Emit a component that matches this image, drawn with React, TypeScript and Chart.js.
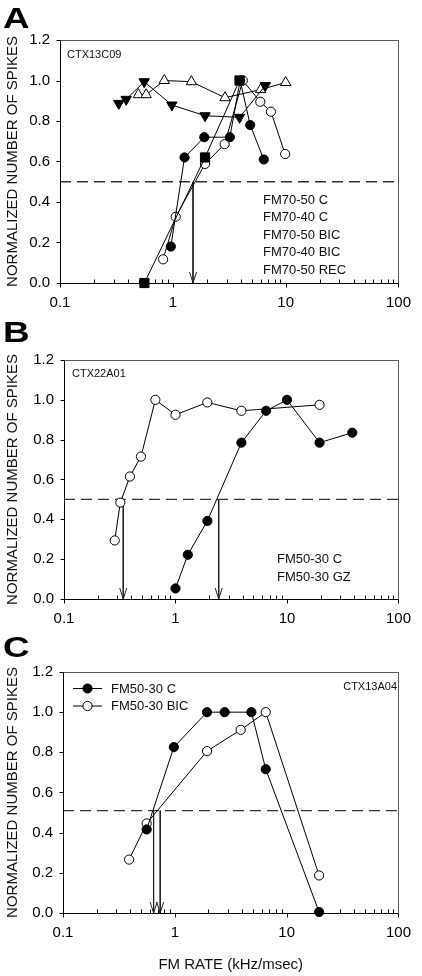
import React, { useEffect, useRef } from "react";
import { Chart, registerables } from "chart.js";

Chart.register(...registerables);

const FONT = '"Liberation Sans", Arial, Helvetica, sans-serif';

// ---------------- Panel A (CTX13C09) ----------------
const A_C50_X = [0.96, 1.27, 1.9, 3.2, 3.95, 4.85, 6.4];
const A_C50_Y = [0.18, 0.62, 0.72, 0.72, 1.0, 0.78, 0.61];
const A_C40_X = [0.332, 0.386, 0.557, 0.98, 1.93, 3.9, 6.6];
const A_C40_Y = [0.887, 0.907, 0.994, 0.879, 0.826, 0.818, 0.975];
const A_B50_X = [0.82, 1.06, 1.93, 2.88, 4.17, 5.96, 7.4, 9.9];
const A_B50_Y = [0.117, 0.327, 0.588, 0.686, 1.0, 0.895, 0.846, 0.637];
const A_B40_X = [0.495, 0.58, 0.84, 1.46, 2.9, 6.0, 10.0];
const A_B40_Y = [0.93, 0.93, 1.0, 0.994, 0.915, 0.955, 0.99];
const A_REC_X = [0.56, 1.93, 3.9];
const A_REC_Y = [0.0, 0.62, 1.0];
const A_HALF = 0.5;
const A_ARROWS = [1.51];
const A_LABELS = ["FM70-50 C", "FM70-40 C", "FM70-50 BIC", "FM70-40 BIC", "FM70-50 REC"];

// ---------------- Panel B (CTX22A01) ----------------
const B_C_X = [1.0, 1.29, 1.93, 3.9, 6.5, 10, 19.6, 38.5];
const B_C_Y = [0.053, 0.222, 0.392, 0.785, 0.945, 1.0, 0.785, 0.835];
const B_GZ_X = [0.285, 0.32, 0.39, 0.49, 0.66, 1.0, 1.93, 3.9, 19.6];
const B_GZ_Y = [0.294, 0.484, 0.615, 0.715, 1.0, 0.925, 0.987, 0.945, 0.975];
const B_HALF = 0.5;
const B_ARROWS = [0.34, 2.44];
const B_LABELS = ["FM50-30 C", "FM50-30 GZ"];

// ---------------- Panel C (CTX13A04) ----------------
const C_C_X = [0.56, 0.98, 1.94, 2.79, 4.84, 6.5, 19.5];
const C_C_Y = [0.416, 0.826, 1.0, 1.0, 1.0, 0.716, 0.005];
const C_BIC_X = [0.39, 0.56, 1.94, 3.88, 6.5, 19.5];
const C_BIC_Y = [0.266, 0.446, 0.806, 0.912, 1.0, 0.187];
const C_HALF = 0.51;
const C_ARROWS = [0.646, 0.74];
const C_LABELS = ["FM50-30 C", "FM50-30 BIC"];

// axis
const X_MIN = 0.1;
const X_MAX = 100;
const Y_MIN = 0;
const Y_MAX = 1.2;
const Y_STEP = 0.2;
const Y_TITLE = "NORMALIZED NUMBER OF SPIKES";
const X_TITLE = "FM RATE (kHz/msec)";

type Marker = "fcircle" | "ocircle" | "ftri-down" | "otri-up" | "fsquare";

function pts(xs: number[], ys: number[]) {
  return xs.map((x, i) => ({ x, y: ys[i] }));
}

function seriesDataset(label: string, xs: number[], ys: number[], marker: Marker) {
  const filled = marker.startsWith("f");
  let pointStyle: any = "circle";
  let radius = 4.6;
  let rotation = 0;
  if (marker === "ftri-down") {
    pointStyle = "triangle";
    radius = 6;
    rotation = 180;
  } else if (marker === "otri-up") {
    pointStyle = "triangle";
    radius = 6;
  } else if (marker === "fsquare") {
    pointStyle = "rect";
    radius = 6.5;
  }
  return {
    label,
    data: pts(xs, ys),
    showLine: true,
    borderColor: "#000",
    borderWidth: 1,
    pointStyle,
    pointRadius: radius,
    pointRotation: rotation,
    pointBackgroundColor: filled ? "#000" : "#fff",
    pointBorderColor: "#000",
    pointBorderWidth: 1,
    clip: false as any,
  };
}

function halfLine(y: number) {
  return {
    label: "half",
    data: [
      { x: X_MIN, y },
      { x: X_MAX, y },
    ],
    showLine: true,
    borderColor: "#333",
    borderWidth: 1.3,
    borderDash: [11, 6],
    pointRadius: 0,
    clip: false as any,
  };
}

function arrowLines(xs: number[], yTop: number) {
  return xs.map((x) => ({
    label: "arrow",
    data: [
      { x, y: yTop },
      { x, y: 0 },
    ],
    showLine: true,
    borderColor: "#222",
    borderWidth: 1,
    pointRadius: 0,
    clip: false as any,
  }));
}

type TextItem = { t: string; x: number; y: number; size: number; align?: CanvasTextAlign };
type LegendItem = { x1: number; x2: number; y: number; filled: boolean; text: string; tx: number };

const decorPlugin = {
  id: "decor",
  afterDraw(chart: any, _args: any, opts: any) {
    const ctx: CanvasRenderingContext2D = chart.ctx;
    const { left, right, top, bottom } = chart.chartArea;
    const xs = chart.scales.x;
    const ys = chart.scales.y;
    const L = Math.floor(left) + 0.5;
    const R = Math.floor(right) + 0.5;
    const T = Math.floor(top) + 0.5;
    const B = Math.floor(bottom) + 0.5;
    ctx.save();
    ctx.lineWidth = 1;
    // top & right frame
    ctx.strokeStyle = "#5a5a5a";
    ctx.beginPath();
    ctx.moveTo(L, T);
    ctx.lineTo(R, T);
    ctx.lineTo(R, B);
    ctx.stroke();
    // left & bottom axes
    ctx.strokeStyle = "#000";
    ctx.beginPath();
    ctx.moveTo(L, T);
    ctx.lineTo(L, B);
    ctx.lineTo(R, B);
    ctx.stroke();
    // x ticks
    ctx.beginPath();
    for (let e = -1; e <= 2; e++) {
      for (let k = 1; k <= 9; k++) {
        const v = k * Math.pow(10, e);
        if (v > X_MAX * 1.0001) break;
        const px = Math.round(xs.getPixelForValue(v)) + 0.5;
        if (k === 1) {
          ctx.moveTo(px, B);
          ctx.lineTo(px, B + 4);
        } else {
          ctx.moveTo(px, B);
          ctx.lineTo(px, B - 4);
        }
      }
    }
    // y ticks
    for (let v = Y_MIN; v <= Y_MAX + 1e-9; v += Y_STEP) {
      const py = Math.round(ys.getPixelForValue(v)) + 0.5;
      ctx.moveTo(L, py);
      ctx.lineTo(L - 4, py);
    }
    ctx.stroke();
    // arrowheads
    ctx.strokeStyle = "#222";
    ctx.beginPath();
    (opts.arrows || []).forEach((v: number) => {
      const px = xs.getPixelForValue(v);
      const py = ys.getPixelForValue(0);
      ctx.moveTo(px - 3.5, py - 11);
      ctx.lineTo(px, py);
      ctx.lineTo(px + 3.5, py - 11);
    });
    ctx.stroke();
    // legend with markers
    (opts.legend || []).forEach((it: LegendItem) => {
      ctx.strokeStyle = "#000";
      ctx.beginPath();
      ctx.moveTo(it.x1, it.y + 0.5);
      ctx.lineTo(it.x2, it.y + 0.5);
      ctx.stroke();
      ctx.beginPath();
      ctx.arc((it.x1 + it.x2) / 2, it.y + 0.5, 4.6, 0, Math.PI * 2);
      ctx.fillStyle = it.filled ? "#000" : "#fff";
      ctx.fill();
      ctx.stroke();
      ctx.fillStyle = "#111";
      ctx.font = `13px ${FONT}`;
      ctx.textAlign = "left";
      ctx.textBaseline = "middle";
      ctx.fillText(it.text, it.tx, it.y + 1);
    });
    // texts
    (opts.texts || []).forEach((it: TextItem) => {
      ctx.fillStyle = "#111";
      ctx.font = `${it.size}px ${FONT}`;
      ctx.textAlign = it.align || "left";
      ctx.textBaseline = "middle";
      ctx.fillText(it.t, it.x, it.y);
    });
    ctx.restore();
  },
};

type PanelProps = {
  top: number;
  height: number;
  area: { left: number; top: number; right: number; bottom: number };
  datasets: any[];
  showXTitle: boolean;
  decor: any;
};

function Panel({ top, height, area, datasets, showXTitle, decor }: PanelProps) {
  const ref = useRef<HTMLCanvasElement | null>(null);
  useEffect(() => {
    if (!ref.current) return;
    const chart = new Chart(ref.current, {
      type: "scatter",
      data: { datasets },
      plugins: [decorPlugin as any],
      options: {
        responsive: false,
        animation: false,
        events: [],
        layout: {
          padding: { left: 0, top: area.top, right: 422 - area.right, bottom: 0 },
        },
        plugins: {
          legend: { display: false },
          tooltip: { enabled: false },
          decor,
        } as any,
        scales: {
          x: {
            type: "logarithmic",
            min: X_MIN,
            max: X_MAX,
            grid: { display: false, drawTicks: false },
            border: { display: false },
            ticks: {
              autoSkip: false,
              maxRotation: 0,
              minRotation: 0,
              padding: 11,
              color: "#000",
              font: { family: FONT, size: 15 },
              callback: (value: any) => {
                const v = Number(value);
                const l = Math.log10(v);
                if (Math.abs(l - Math.round(l)) < 1e-6) {
                  return v < 1 ? "0.1" : String(Math.round(v));
                }
                return "";
              },
            },
            title: {
              display: showXTitle,
              text: X_TITLE,
              color: "#111",
              font: { family: FONT, size: 15 },
              padding: { top: 0, bottom: 2 },
            },
            afterFit: (scale: any) => {
              scale.height = height - area.bottom;
            },
          },
          y: {
            type: "linear",
            min: Y_MIN,
            max: Y_MAX,
            grid: { display: false, drawTicks: false },
            border: { display: false },
            ticks: {
              stepSize: Y_STEP,
              padding: 10,
              color: "#000",
              font: { family: FONT, size: 15 },
              callback: (value: any) => Number(value).toFixed(1),
            },
            title: {
              display: true,
              text: Y_TITLE,
              color: "#111",
              font: { family: FONT, size: 15 },
              padding: { top: 4, bottom: 0 },
            },
            afterFit: (scale: any) => {
              scale.width = area.left;
            },
          },
        },
      } as any,
    });
    return () => chart.destroy();
  }, []);
  return (
    <div style={{ position: "absolute", left: 0, top, width: 422, height }}>
      <canvas ref={ref} width={422} height={height} style={{ display: "block" }} />
    </div>
  );
}

const letterStyle = (top: number): React.CSSProperties => ({
  position: "absolute",
  left: 3,
  top,
  fontFamily: FONT,
  fontWeight: "bold",
  fontSize: 29,
  lineHeight: "29px",
  color: "#000",
  transform: "scaleX(1.27)",
  transformOrigin: "left top",
  margin: 0,
});

export default function App() {
  const dsA = [
    seriesDataset(A_LABELS[0], A_C50_X, A_C50_Y, "fcircle"),
    seriesDataset(A_LABELS[4], A_REC_X, A_REC_Y, "fsquare"),
    seriesDataset(A_LABELS[2], A_B50_X, A_B50_Y, "ocircle"),
    seriesDataset(A_LABELS[1], A_C40_X, A_C40_Y, "ftri-down"),
    seriesDataset(A_LABELS[3], A_B40_X, A_B40_Y, "otri-up"),
    halfLine(A_HALF),
    ...arrowLines(A_ARROWS, A_HALF),
  ];
  const dsB = [
    seriesDataset(B_LABELS[0], B_C_X, B_C_Y, "fcircle"),
    seriesDataset(B_LABELS[1], B_GZ_X, B_GZ_Y, "ocircle"),
    halfLine(B_HALF),
    ...arrowLines(B_ARROWS, B_HALF),
  ];
  const dsC = [
    seriesDataset(C_LABELS[0], C_C_X, C_C_Y, "fcircle"),
    seriesDataset(C_LABELS[1], C_BIC_X, C_BIC_Y, "ocircle"),
    halfLine(C_HALF),
    ...arrowLines(C_ARROWS, C_HALF),
  ];
  const decorA = {
    arrows: A_ARROWS,
    texts: [
      { t: "CTX13C09", x: 67, y: 55, size: 11 },
      ...A_LABELS.map((t, i) => ({ t, x: 263, y: 200 + i * 17.6, size: 13 })),
    ],
  };
  const decorB = {
    arrows: B_ARROWS,
    texts: [
      { t: "CTX22A01", x: 72, y: 54, size: 11 },
      ...B_LABELS.map((t, i) => ({ t, x: 277, y: 239 + i * 18.5, size: 13 })),
    ],
  };
  const decorC = {
    arrows: C_ARROWS,
    texts: [{ t: "CTX13A04", x: 397, y: 47, size: 11, align: "right" }],
    legend: C_LABELS.map((t, i) => ({ x1: 73, x2: 102, y: 48 + i * 17.5, filled: i === 0, text: t, tx: 111 })),
  };
  return (
    <div
      style={{
        position: "fixed",
        left: 0,
        top: 0,
        width: 422,
        height: 976,
        background: "#fff",
        overflow: "hidden",
      }}
    >
      <Panel
        top={0}
        height={320}
        area={{ left: 60, top: 40, right: 407, bottom: 283 }}
        datasets={dsA}
        showXTitle={false}
        decor={decorA}
      />
      <Panel
        top={320}
        height={320}
        area={{ left: 64, top: 40, right: 407, bottom: 279 }}
        datasets={dsB}
        showXTitle={false}
        decor={decorB}
      />
      <Panel
        top={640}
        height={336}
        area={{ left: 63, top: 32, right: 406, bottom: 273 }}
        datasets={dsC}
        showXTitle={true}
        decor={decorC}
      />
      <div style={letterStyle(4)}>A</div>
      <div style={letterStyle(318)}>B</div>
      <div style={letterStyle(633)}>C</div>
    </div>
  );
}
